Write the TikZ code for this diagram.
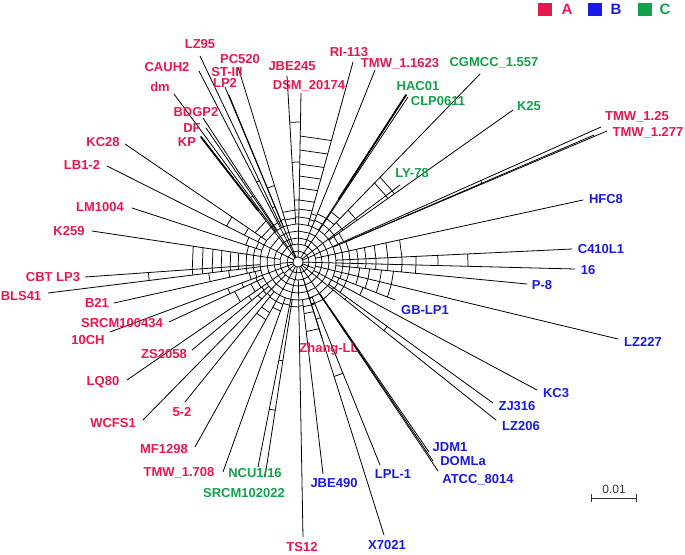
\documentclass[tikz,border=0pt]{standalone}
\usepackage{fontspec}
\setmainfont{Liberation Sans}
\usetikzlibrary{calc}
\definecolor{cA}{HTML}{E8184F}
\definecolor{cB}{HTML}{1A1AE6}
\definecolor{cC}{HTML}{12A04A}
\tikzset{
  edge/.style={line width=0.8pt, black, line cap=round},
  thick edge/.style={line width=1.8pt, black, line cap=round},
  rung/.style={line width=0.75pt, black},
  lab/.style={font=\fontsize{13}{15}\selectfont\bfseries, inner sep=0pt},
  labA/.style={lab, text=cA},
  labB/.style={lab, text=cB},
  labC/.style={lab, text=cC},
  legsq/.style={minimum width=14pt, minimum height=13pt, inner sep=0pt},
  leglab/.style={font=\fontsize{15}{17}\selectfont\bfseries, inner sep=0pt}
}
\begin{document}
\begin{tikzpicture}[x=1pt,y=-1pt]
\useasboundingbox (0,0) rectangle (685,554);
\coordinate (C) at (298,262);
% pendant edge end points, in circular order
\foreach \i/\x/\y in {1/301/93, 2/353/62, 3/375/70, 4/406/95, 5/408/97, 6/480/74,
  7/400/185, 8/513/110, 9/601/127, 10/607/131, 11/583/200, 12/572/249, 13/575/269,
  14/527/284, 15/618/339, 16/395/300, 17/537/390, 18/493/403, 19/496/420, 20/429/452,
  21/433/461, 22/438/471, 23/322/338, 24/380/465, 25/384/535, 26/323/474, 27/303/537,
  28/265/477, 29/258/467, 30/223/472, 31/195/447, 32/185/402, 33/143/420, 34/192/350,
  35/127/380, 36/169/322, 37/110/332, 38/114/303, 39/48/293, 40/85/277, 41/92/231,
  42/132/208, 43/107/166, 44/125/144, 45/201/137, 46/174/94, 47/206/128, 48/203/118,
  49/199/71, 50/200/56, 51/225/87, 52/229/95, 53/238/67, 54/287/76}
  \coordinate (e\i) at (\x,\y);
\coordinate (e10b) at (594,135);
% pendant edges
\foreach \i in {1,...,54}
  \draw[edge] ($(C)!38pt!(e\i)$) -- (e\i);
\draw[edge] ($(C)!50pt!(e10)$) -- (e10b);
\draw[thick edge] ($(C)!65pt!(e45)$) -- (e45);
\draw[thick edge] ($(C)!75pt!(e4)$) -- (e4);
% core of the network: inner rings and spokes
\foreach \a/\b in {1/4, 4/7, 7/10, 10/13, 13/16, 16/19, 19/22, 22/25, 25/28, 28/31,
  31/34, 34/37, 37/40, 40/43, 43/46, 46/49, 49/52, 52/1}
{
  \draw[rung] ($(C)!5pt!(e\a)$) -- ($(C)!18pt!(e\a)$);
  \draw[rung] ($(C)!5pt!(e\a)$) -- ($(C)!5pt!(e\b)$);
  \draw[rung] ($(C)!11pt!(e\a)$) -- ($(C)!11pt!(e\b)$);
}
\foreach \a/\b in {1/3, 3/5, 5/7, 7/9, 9/11, 11/13, 13/15, 15/17, 17/19, 19/21, 21/23,
  23/25, 25/27, 27/29, 29/31, 31/33, 33/35, 35/37, 37/39, 39/41, 41/43, 43/45, 45/47,
  47/49, 49/51, 51/53, 53/1}
{
  \draw[rung] ($(C)!18pt!(e\a)$) -- ($(C)!38pt!(e\a)$);
  \draw[rung] ($(C)!18pt!(e\a)$) -- ($(C)!18pt!(e\b)$);
  \draw[rung] ($(C)!24pt!(e\a)$) -- ($(C)!24pt!(e\b)$);
  \draw[rung] ($(C)!31pt!(e\a)$) -- ($(C)!31pt!(e\b)$);
}
% splits mesh (rungs between neighbouring edges)
\foreach \a/\b/\rs in {
  1/2/{38,45,53,62,74,86,98,112,126},
  2/3/{38,44,50},
  3/4/{38,45,52},
  4/5/{38},
  5/6/{38,45,52,60},
  6/7/{38,45,55,72,110,118},
  7/8/{38,45,55,72,110,118},
  8/9/{38,44,50},
  9/10/{38,45,60,120,200},
  10/11/{38,45,52},
  11/12/{38,45,52,60,68,78,90,104},
  12/13/{38,45,52,60,68,78,90,104,118,140,170},
  13/14/{38,45,52,60,68,78,90,104,118},
  14/15/{38,45,52,62,72,84,96},
  15/16/{38,45,52,62,72,84,96},
  16/17/{38,44,52,70},
  17/18/{38,45,52},
  18/19/{38,44,60,110},
  19/20/{38,45},
  20/21/{38,50,80,120},
  21/22/{38,50,80,120},
  22/23/{38,45},
  23/24/{38,44},
  24/25/{38,45,60,120},
  25/26/{38,45,52,70},
  26/27/{38,44},
  27/28/{38,45},
  28/29/{38,45,100,150},
  29/30/{38,44},
  30/31/{38,45,52},
  31/32/{38,45,58,66},
  32/33/{38,44},
  33/34/{38,45,52},
  34/35/{38,44,60},
  35/36/{38,45,52,70},
  36/37/{38,45,60,75},
  37/38/{38,44,50},
  38/39/{38,45,52,70,90},
  39/40/{38,45,52,60,68,77,86,96,106,150},
  40/41/{38,45,52,60,68,77,86,96,106},
  41/42/{38,45,52},
  42/43/{38,44,55},
  43/44/{38,45,60,80},
  44/45/{38,44,52},
  45/46/{38,45,60},
  46/47/{38,44,80},
  47/48/{38,45,70,100},
  48/49/{38,44},
  49/50/{38,45,90},
  50/51/{38,44,60},
  51/52/{38,45,100,130},
  52/53/{38,45,80},
  53/54/{38,44,52},
  54/1/{38,45,52,62,100,140}}
{
  \foreach \rr in \rs
    \draw[rung] ($(C)!\rr pt!(e\a)$) -- ($(C)!\rr pt!(e\b)$);
}
% labels
\node[labA] (t1) at (309,86) {DSM\_20174};
\node[labA] (t2) at (349,52) {RI-113};
\node[labA] (t3) at (400,64) {TMW\_1.1623};
\node[labC] (t4) at (418,86) {HAC01};
\node[labC] (t5) at (438,101) {CLP0611};
\node[labC] (t6) at (494,63) {CGMCC\_1.557};
\node[labC] (t7) at (412,173) {LY-78};
\node[labC] (t8) at (529,106) {K25};
\node[labA] (t9) at (637,117) {TMW\_1.25};
\node[labA] (t10) at (648,133) {TMW\_1.277};
\node[labB] (t11) at (606,199) {HFC8};
\node[labB] (t12) at (601,249) {C410L1};
\node[labB] (t13) at (588,270) {16};
\node[labB] (t14) at (542,285) {P-8};
\node[labB] (t15) at (643,342) {LZ227};
\node[labB] (t16) at (425,310) {GB-LP1};
\node[labB] (t17) at (556,393) {KC3};
\node[labB] (t18) at (517,406) {ZJ316};
\node[labB] (t19) at (521,426) {LZ206};
\node[labB] (t20) at (450,447) {JDM1};
\node[labB] (t21) at (463,461) {DOMLa};
\node[labB] (t22) at (478,480) {ATCC\_8014};
\node[labA] (t23) at (329,349) {Zhang-LL};
\node[labB] (t24) at (393,474) {LPL-1};
\node[labB] (t25) at (387,545) {X7021};
\node[labB] (t26) at (334,483) {JBE490};
\node[labA] (t27) at (302,547) {TS12};
\node[labC] (t28) at (244,493) {SRCM102022};
\node[labC] (t29) at (255,473) {NCU1/16};
\node[labA] (t30) at (179,473) {TMW\_1.708};
\node[labA] (t31) at (164,449) {MF1298};
\node[labA] (t32) at (182,412) {5-2};
\node[labA] (t33) at (113,423) {WCFS1};
\node[labA] (t34) at (164,354) {ZS2058};
\node[labA] (t35) at (103,382) {LQ80};
\node[labA] (t36) at (122,323) {SRCM100434};
\node[labA] (t37) at (88,340) {10CH};
\node[labA] (t38) at (97,303) {B21};
\node[labA] (t39) at (21,296) {BLS41};
\node[labA] (t40) at (53,277) {CBT LP3};
\node[labA] (t41) at (69,231) {K259};
\node[labA] (t42) at (100,207) {LM1004};
\node[labA] (t43) at (82,165) {LB1-2};
\node[labA] (t44) at (103,142) {KC28};
\node[labA] (t45) at (187,142) {KP};
\node[labA] (t46) at (160,87) {dm};
\node[labA] (t47) at (192,128) {DF};
\node[labA] (t48) at (196,112) {BDGP2};
\node[labA] (t49) at (167,67) {CAUH2};
\node[labA] (t50) at (200,44) {LZ95};
\node[labA] (t51) at (225,83) {LP2};
\node[labA] (t52) at (227,72) {ST-III};
\node[labA] (t53) at (240,59) {PC520};
\node[labA] (t54) at (292,66) {JBE245};
% legend
\node[legsq, fill=cA] (sqA) at (545,9) {};
\node[leglab, text=cA] (lgA) at (567,9) {A};
\node[legsq, fill=cB] (sqB) at (595,9) {};
\node[leglab, text=cB] (lgB) at (616,9) {B};
\node[legsq, fill=cC] (sqC) at (645,9) {};
\node[leglab, text=cC] (lgC) at (665,9) {C};
% scale bar
\coordinate (sb1) at (591,498);
\coordinate (sb2) at (636,498);
\draw[line width=0.8pt, black!80] (sb1) -- (sb2);
\draw[line width=0.8pt, black!80] ($(sb1)+(0,-4)$) -- ($(sb1)+(0,4)$);
\draw[line width=0.8pt, black!80] ($(sb2)+(0,-4)$) -- ($(sb2)+(0,4)$);
\node[font=\fontsize{12}{14}\selectfont, text=black!80, inner sep=0pt] (sbl) at (614,489) {0.01};
\end{tikzpicture}
\end{document}
